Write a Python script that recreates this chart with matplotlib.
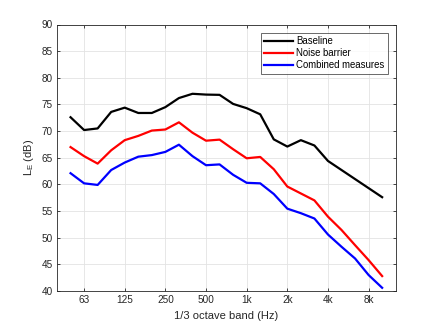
import numpy as np
import matplotlib.pyplot as plt

plt.rcParams['font.family'] = ['Liberation Sans', 'DejaVu Sans']

# 1/3 octave band centres, 50 Hz .. 10 kHz
bands = ['50', '63', '80', '100', '125', '160', '200', '250', '315', '400', '500', '630',
         '800', '1k', '1.25k', '1.6k', '2k', '2.5k', '3.15k', '4k', '5k', '6.3k', '8k', '10k']
baseline = [72.6, 70.2, 70.5, 73.6, 74.4, 73.4, 73.4, 74.5, 76.2, 77.0, 76.85, 76.8,
            75.1, 74.3, 73.15, 68.45, 67.1, 68.3, 67.3, 64.4, 62.7, 61.0, 59.3, 57.6]
barrier = [67.0, 65.3, 63.9, 66.4, 68.3, 69.1, 70.1, 70.3, 71.65, 69.7, 68.2, 68.4,
           66.6, 64.9, 65.15, 62.85, 59.6, 58.3, 57.0, 53.95, 51.45, 48.6, 45.8, 42.8]
combined = [62.1, 60.2, 59.9, 62.7, 64.1, 65.2, 65.5, 66.1, 67.45, 65.3, 63.6, 63.75,
            61.8, 60.3, 60.2, 58.2, 55.45, 54.6, 53.6, 50.6, 48.3, 46.1, 43.0, 40.6]

tick_labels = ['63', '125', '250', '500', '1k', '2k', '4k', '8k']

x = np.arange(len(bands)) + 1  # 40 Hz band would sit at 0
tick_pos = [bands.index(t) + 1 for t in tick_labels]

fig = plt.figure(figsize=(4.37, 3.28), dpi=100)
ax = fig.add_axes([57 / 437, 1 - 291 / 328, (395.7 - 57) / 437, (291 - 24.5) / 328])

ax.plot(x, baseline, color='black', lw=1.6, label='Baseline')
ax.plot(x, barrier, color='red', lw=1.6, label='Noise barrier')
ax.plot(x, combined, color='blue', lw=1.6, label='Combined measures')

ax.set_xlim(0, 25)
ax.set_ylim(40, 90)
ax.set_xticks(tick_pos)
ax.set_xticklabels(tick_labels)
ax.set_yticks(np.arange(40, 91, 5))
ax.grid(True, color='#e3e3e3', lw=0.6)
ax.set_axisbelow(True)
ax.tick_params(direction='in', top=True, right=True, length=2.5, width=0.6,
               colors='#262626', labelsize=7.2, pad=3)
for sp in ax.spines.values():
    sp.set_color('#262626')
    sp.set_linewidth(0.6)

ax.set_xlabel('1/3 octave band (Hz)', fontsize=8.0, color='#262626')
ax.set_ylabel('L$_\\mathregular{E}$ (dB)', fontsize=8.0, color='#262626')

leg = ax.legend(loc='upper right', fontsize=6.9, frameon=True, fancybox=False,
                edgecolor='#262626', handlelength=3.0, handletextpad=0.3,
                borderpad=0.35, labelspacing=0.22, borderaxespad=0.85)
leg.get_frame().set_linewidth(0.6)

fig.savefig('out.png', dpi=100, facecolor='white')
